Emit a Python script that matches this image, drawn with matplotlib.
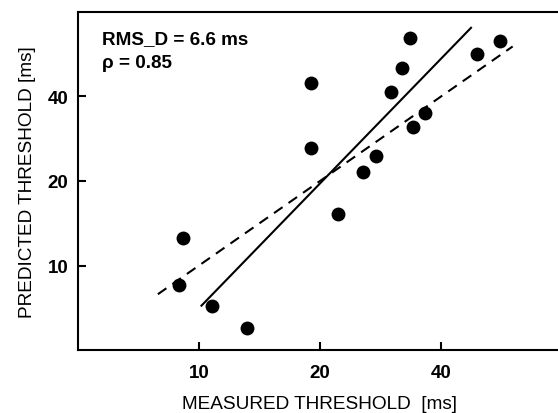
import matplotlib
matplotlib.use("Agg")
import matplotlib.pyplot as plt
from matplotlib.ticker import FixedLocator, NullLocator

plt.rcParams['font.family'] = ['Liberation Sans', 'DejaVu Sans']

# measured vs predicted thresholds (ms)
measured = [9.1, 8.9, 10.8, 13.2, 19.0, 19.0, 33.4, 31.9, 30.0, 36.6, 34.0,
            27.6, 25.6, 49.1, 56.1, 22.2]
predicted = [12.5, 8.5, 7.15, 6.0, 44.7, 26.3, 64.6, 50.6, 41.5, 35.0, 31.2,
             24.6, 21.6, 56.7, 63.0, 15.3]

# regression line (solid) and identity line (dashed) end points
fit_x = [10.1, 47.7]
fit_y = [7.15, 70.7]
ident_x = [7.9, 60.3]
ident_y = [7.9, 60.3]

ticks = [10, 20, 40]
tick_labels = ['10', '20', '40']

fig = plt.figure(figsize=(5.58, 4.14), dpi=100)
ax = fig.add_axes([78 / 558, 63 / 414, 484 / 558, 338 / 414])

ax.set_xscale('log')
ax.set_yscale('log')
ax.set_xlim(5, 80)
ax.set_ylim(5, 80)

ax.plot(fit_x, fit_y, color='black', lw=1.5, solid_capstyle='butt')
ax.plot(ident_x, ident_y, color='black', lw=1.5, dashes=(5, 3.5))
ax.scatter(measured, predicted, s=100, color='black', zorder=3, linewidths=0)

ax.xaxis.set_major_locator(FixedLocator(ticks))
ax.yaxis.set_major_locator(FixedLocator(ticks))
ax.xaxis.set_minor_locator(NullLocator())
ax.yaxis.set_minor_locator(NullLocator())
ax.set_xticklabels(tick_labels, fontweight='bold', fontsize=13.5)
ax.set_yticklabels(tick_labels, fontweight='bold', fontsize=13.5)
ax.tick_params(axis='x', direction='in', length=6, width=1.5, pad=10)
ax.tick_params(axis='y', direction='in', length=6, width=1.5, pad=7)

for side in ['left', 'top', 'bottom']:
    ax.spines[side].set_linewidth(1.5)
ax.spines['right'].set_visible(False)

ax.set_xlabel('MEASURED THRESHOLD  [ms]', fontsize=13.7, labelpad=10)
ax.set_ylabel('PREDICTED THRESHOLD [ms]', fontsize=13.7, labelpad=8)

ax.text(0.05, 0.92, 'RMS_D = 6.6 ms', transform=ax.transAxes,
        fontsize=13.6, fontweight='bold', va='center')
ax.text(0.05, 0.852, '\u03c1 = 0.85', transform=ax.transAxes,
        fontsize=13.6, fontweight='bold', va='center')

fig.savefig('out.png', dpi=100)
